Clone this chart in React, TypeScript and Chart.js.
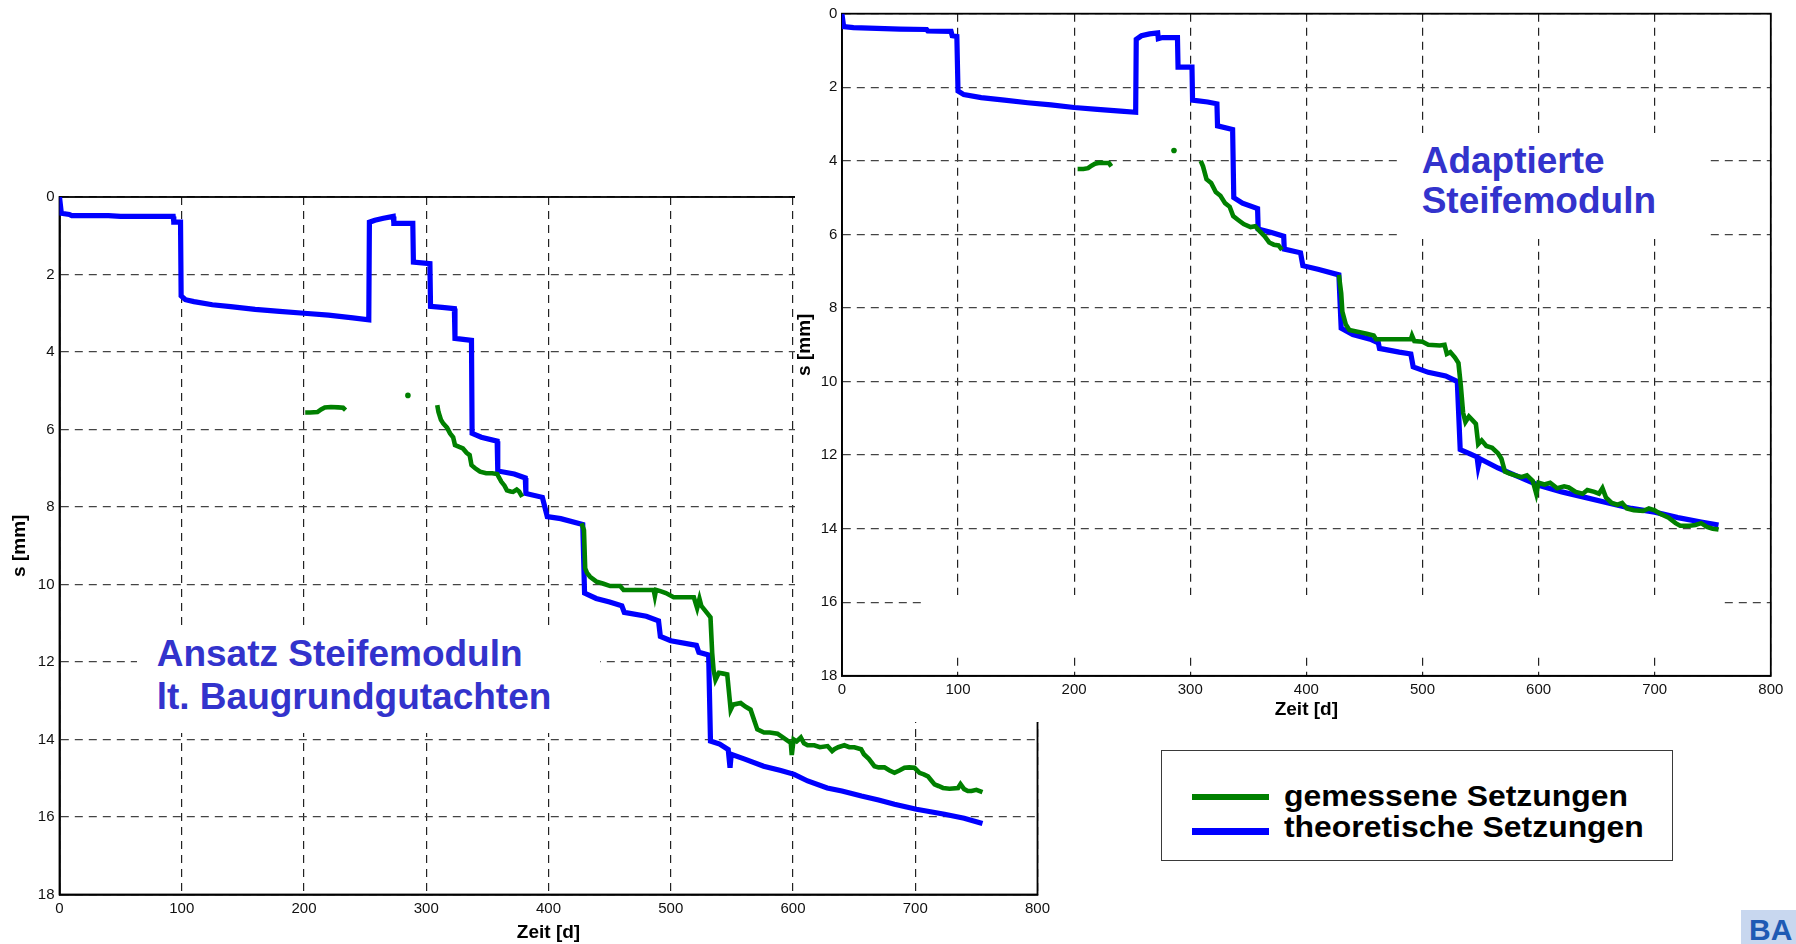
import React, { useEffect, useRef } from "react";
import { Chart, registerables } from "chart.js";

Chart.register(...registerables);

// ---------- data ----------
const X_TICKS = [0, 100, 200, 300, 400, 500, 600, 700, 800];
const Y_TICKS = [0, 2, 4, 6, 8, 10, 12, 14, 16, 18];
const X_TITLE = "Zeit [d]";
const Y_TITLE = "s [mm]";
const SERIES_NAMES = ["gemessene Setzungen", "theoretische Setzungen"];
const LEFT_NOTE = ["Ansatz Steifemoduln", "lt. Baugrundgutachten"];
const RIGHT_NOTE = ["Adaptierte", "Steifemoduln"];

// left chart: theoretical settlement (blue)
const LEFT_THEO_X = [0, 1.5, 8, 10, 40, 50, 93, 93.5, 99, 99.5, 103, 110, 125, 140, 160, 180, 200, 220, 240, 253, 253.5, 258, 265, 273, 273.5, 289, 289.5, 303, 303.5, 313, 323, 323.5, 337, 337.5, 345, 358, 358.5, 372, 381, 381.5, 395, 399, 410, 428, 429.5, 439, 450, 460, 462, 480, 490, 491.5, 500, 521, 523, 531, 532.5, 540, 547, 548.5, 549.5, 560, 576, 590, 601, 612, 628, 640, 656, 670, 683, 701, 724, 740, 755];
const LEFT_THEO_Y = [0, 0.42, 0.45, 0.48, 0.48, 0.5, 0.5, 0.65, 0.65, 2.55, 2.65, 2.7, 2.78, 2.83, 2.9, 2.95, 3.0, 3.05, 3.12, 3.17, 0.65, 0.6, 0.55, 0.5, 0.68, 0.68, 1.68, 1.72, 2.82, 2.85, 2.88, 3.65, 3.7, 6.1, 6.2, 6.3, 7.07, 7.15, 7.25, 7.65, 7.75, 8.25, 8.3, 8.45, 10.22, 10.36, 10.45, 10.55, 10.72, 10.82, 10.94, 11.34, 11.45, 11.57, 11.75, 11.82, 14.04, 14.12, 14.26, 14.73, 14.38, 14.5, 14.69, 14.8, 14.9, 15.07, 15.25, 15.33, 15.46, 15.56, 15.67, 15.8, 15.93, 16.03, 16.17];

// left chart: measured settlement (green), null = gap
const LEFT_MEAS_X = [201, 205, 211, 214, 217, 222, 228, 232, 234, 260, 285, 297, 309, 310, 312, 314, 317, 319.5, 322, 323.5, 327, 330, 333, 335.5, 337, 340, 344, 349, 354, 358, 361.5, 364, 366, 369, 371, 374, 376, 378.5, 400, 427, 429, 430, 431.5, 434, 439.5, 445, 450.5, 458.6, 461.4, 470, 486, 487, 488, 491.5, 496, 502.4, 510, 518.9, 521.6, 523.5, 525, 529.8, 532.5, 533.9, 535, 536.6, 539.4, 543, 546.2, 548, 549, 551, 557.2, 561, 565.3, 570.8, 576.3, 581, 587.3, 592, 598.2, 599, 600.5, 603, 606.4, 609, 611.9, 617.4, 622, 628.3, 632, 633.8, 637, 642, 646, 650.2, 655.7, 658, 662, 666.6, 670, 674.8, 679, 683, 687, 691.2, 695, 699.4, 703.5, 707, 710.4, 713, 715.8, 719, 722.7, 728, 735, 737, 740, 743, 746, 750, 755];
const LEFT_MEAS_Y = [5.56, 5.56, 5.55, 5.48, 5.43, 5.42, 5.43, 5.44, 5.5, null, 5.12, null, 5.37, 5.55, 5.75, 5.85, 5.95, 6.1, 6.2, 6.4, 6.45, 6.49, 6.6, 6.66, 6.92, 7.0, 7.09, 7.13, 7.13, 7.15, 7.35, 7.45, 7.57, 7.6, 7.61, 7.55, 7.6, 7.74, null, 8.42, 8.6, 9.58, 9.7, 9.8, 9.93, 9.98, 10.04, 10.04, 10.14, 10.14, 10.14, 10.3, 10.14, 10.17, 10.22, 10.33, 10.33, 10.33, 10.61, 10.37, 10.55, 10.74, 10.85, 11.77, 12.2, 12.46, 12.28, 12.3, 12.32, 12.9, 13.23, 13.1, 13.06, 13.15, 13.23, 13.74, 13.82, 13.82, 13.85, 13.95, 14.09, 14.4, 14.0, 14.05, 13.95, 14.1, 14.15, 14.15, 14.2, 14.17, 14.3, 14.25, 14.2, 14.15, 14.2, 14.2, 14.25, 14.38, 14.5, 14.69, 14.72, 14.72, 14.8, 14.86, 14.8, 14.73, 14.72, 14.73, 14.86, 14.9, 14.95, 15.05, 15.16, 15.2, 15.25, 15.27, 15.25, 15.15, 15.28, 15.33, 15.33, 15.3, 15.36];

// right chart: theoretical settlement (blue)
const RIGHT_THEO_X = [0, 1.5, 10, 30, 50, 73, 74, 94, 95, 99, 100, 105, 120, 140, 160, 180, 200, 220, 240, 253, 253.5, 258, 265, 272, 272.5, 276, 289, 289.5, 301.5, 302, 315, 323, 323.5, 336.5, 337.5, 345, 358, 358.5, 370, 380.5, 381, 395, 397, 410, 428, 430, 440, 455, 462, 463, 480, 490, 492, 505, 520, 530, 532.5, 540, 547, 548, 549.5, 565, 580, 600, 620, 640, 660, 680, 700, 720, 740, 755];
const RIGHT_THEO_Y = [0, 0.35, 0.38, 0.4, 0.42, 0.43, 0.47, 0.48, 0.6, 0.62, 2.1, 2.2, 2.28, 2.35, 2.42, 2.48, 2.55, 2.6, 2.65, 2.68, 0.7, 0.6, 0.55, 0.52, 0.68, 0.65, 0.65, 1.45, 1.45, 2.35, 2.4, 2.45, 3.05, 3.15, 5.0, 5.15, 5.3, 5.85, 5.95, 6.05, 6.4, 6.5, 6.85, 6.95, 7.1, 8.55, 8.72, 8.85, 8.95, 9.1, 9.2, 9.25, 9.6, 9.75, 9.85, 10.0, 11.85, 11.95, 12.05, 12.3, 12.1, 12.35, 12.55, 12.82, 13.0, 13.15, 13.3, 13.45, 13.55, 13.7, 13.82, 13.9];

// right chart: measured settlement (green), null = gap
const RIGHT_MEAS_X = [203, 208, 212, 215, 218, 222, 226, 230, 232, 260, 286, 297, 309, 311, 314, 318, 322, 326, 330, 334, 337, 341, 346, 352, 356, 360, 364, 368, 372, 376, 379, 400, 428, 430, 431, 434, 437, 445, 452, 458, 460, 470, 480, 490, 491, 493, 500, 505, 515, 519, 521, 524, 528, 531, 533, 535, 537, 540, 543, 546, 548, 551, 555, 560, 565, 568, 571, 575, 580, 585, 590, 595, 598, 600, 605, 610, 616, 622, 626, 632, 638, 642, 648, 652, 655, 658, 663, 668, 672, 676, 682, 690, 695, 700, 705, 712, 718, 722, 730, 735, 740, 745, 750, 755];
const RIGHT_MEAS_Y = [4.22, 4.22, 4.2, 4.13, 4.08, 4.05, 4.06, 4.06, 4.15, null, 3.72, null, 4.0, 4.15, 4.5, 4.6, 4.85, 4.95, 5.15, 5.25, 5.5, 5.6, 5.72, 5.8, 5.78, 5.92, 6.05, 6.22, 6.28, 6.3, 6.42, null, 7.1, 7.6, 8.1, 8.45, 8.6, 8.65, 8.7, 8.75, 8.85, 8.85, 8.85, 8.85, 8.75, 8.9, 8.92, 9.0, 9.02, 9.0, 9.25, 9.2, 9.35, 9.5, 10.1, 10.85, 11.1, 10.95, 11.05, 11.15, 11.7, 11.6, 11.75, 11.8, 11.95, 12.1, 12.45, 12.5, 12.55, 12.6, 12.55, 12.7, 13.05, 12.75, 12.8, 12.75, 12.9, 12.85, 12.88, 13.0, 13.05, 12.95, 13.0, 13.05, 12.9, 13.15, 13.3, 13.35, 13.3, 13.45, 13.5, 13.52, 13.45, 13.5, 13.6, 13.7, 13.85, 13.92, 13.92, 13.9, 13.85, 13.95, 14.0, 14.02];

// ---------- styles ----------
const FONT = "'Liberation Sans', Arial, Helvetica, sans-serif";
const GREEN = "#008000";
const BLUE = "#0000ff";
const NOTE_BLUE = "#3333cc";

const toPoints = (xs: number[], ys: (number | null)[]) =>
  xs.map((x, i) => ({ x, y: ys[i] }));

const isolatedRadius = (ctx: any) => {
  const d = ctx.dataset && ctx.dataset.data;
  const i = ctx.dataIndex;
  if (!d || i == null || !d[i] || d[i].y == null) return 0;
  const prev = d[i - 1];
  const next = d[i + 1];
  return (!prev || prev.y == null) && (!next || next.y == null) ? 2.8 : 0;
};

const framePlugin = {
  id: "frame",
  beforeDatasetsDraw(chart: any) {
    const { ctx, chartArea } = chart;
    ctx.save();
    ctx.strokeStyle = "#000";
    ctx.lineWidth = 1.8;
    ctx.strokeRect(chartArea.left, chartArea.top, chartArea.right - chartArea.left, chartArea.bottom - chartArea.top);
    ctx.restore();
  },
};

type Layout = {
  padTop: number;
  padRight: number;
  yWidth: number;
  xHeight: number;
  yTickPad: number;
  xTickPad: number;
  yTitlePad: number;
  xTitlePad: number;
};

function buildConfig(measX: number[], measY: (number | null)[], theoX: number[], theoY: number[], L: Layout): any {
  const tickFont = { family: FONT, size: 15 };
  const titleFont = { family: FONT, size: 19, weight: "bold", lineHeight: 1 };
  return {
    type: "line",
    data: {
      datasets: [
        {
          label: SERIES_NAMES[0],
          data: toPoints(measX, measY),
          borderColor: GREEN,
          backgroundColor: GREEN,
          borderWidth: 4.6,
          pointRadius: isolatedRadius,
          pointHoverRadius: 0,
          pointBorderWidth: 0,
          pointBackgroundColor: GREEN,
          spanGaps: false,
          tension: 0,
          fill: false,
        },
        {
          label: SERIES_NAMES[1],
          data: toPoints(theoX, theoY),
          borderColor: BLUE,
          backgroundColor: BLUE,
          borderWidth: 5.2,
          pointRadius: 0,
          pointHoverRadius: 0,
          tension: 0,
          fill: false,
        },
      ],
    },
    options: {
      responsive: false,
      animation: false,
      events: [],
      layout: { padding: { top: L.padTop, right: L.padRight, left: 0, bottom: 0 } },
      plugins: { legend: { display: false }, tooltip: { enabled: false } },
      scales: {
        x: {
          type: "linear",
          min: 0,
          max: 800,
          afterBuildTicks: (s: any) => {
            s.ticks = X_TICKS.map((value) => ({ value }));
          },
          afterFit: (s: any) => {
            s.height = L.xHeight;
          },
          ticks: { font: tickFont, color: "#111", padding: L.xTickPad, maxRotation: 0, autoSkip: false, callback: (v: any) => String(v) },
          grid: { color: "#222", lineWidth: 1.2, drawTicks: false },
          border: { display: true, color: "#000", width: 1.8, dash: [8, 6] },
          title: { display: true, text: X_TITLE, color: "#000", font: titleFont, padding: { top: 0, bottom: L.xTitlePad } },
        },
        y: {
          type: "linear",
          reverse: true,
          min: 0,
          max: 18,
          afterBuildTicks: (s: any) => {
            s.ticks = Y_TICKS.map((value) => ({ value }));
          },
          afterFit: (s: any) => {
            s.width = L.yWidth;
          },
          ticks: { font: tickFont, color: "#111", padding: L.yTickPad, autoSkip: false, callback: (v: any) => String(v) },
          grid: { color: "#444", lineWidth: 1.2, drawTicks: false },
          border: { display: true, color: "#000", width: 1.8, dash: [8, 6] },
          title: { display: true, text: Y_TITLE, color: "#000", font: titleFont, padding: { top: L.yTitlePad, bottom: 0 } },
        },
      },
    },
    plugins: [framePlugin],
  };
}

function SettlementChart(props: {
  measX: number[];
  measY: (number | null)[];
  theoX: number[];
  theoY: number[];
  layout: Layout;
  w: number;
  h: number;
  style: React.CSSProperties;
}) {
  const ref = useRef<HTMLCanvasElement>(null);
  useEffect(() => {
    const chart = new Chart(ref.current as HTMLCanvasElement, buildConfig(props.measX, props.measY, props.theoX, props.theoY, props.layout));
    return () => chart.destroy();
  }, []);
  return <canvas ref={ref} width={props.w} height={props.h} style={{ position: "absolute", display: "block", ...props.style }} />;
}

export default function App() {
  const noteStyle: React.CSSProperties = {
    position: "absolute",
    fontFamily: FONT,
    fontWeight: "bold",
    fontSize: 37,
    color: NOTE_BLUE,
    whiteSpace: "pre",
  };
  return (
    <div style={{ position: "fixed", left: 0, top: 0, width: 1796, height: 944, background: "#fff", overflow: "hidden" }}>
      {/* left chart */}
      <SettlementChart
        measX={LEFT_MEAS_X}
        measY={LEFT_MEAS_Y}
        theoX={LEFT_THEO_X}
        theoY={LEFT_THEO_Y}
        w={1060}
        h={944}
        style={{ left: 0, top: 0, zIndex: 1 }}
        layout={{ padTop: 197, padRight: 22.5, yWidth: 59.5, xHeight: 49.5, yTickPad: 5, xTickPad: 5.5, yTitlePad: 10.5, xTitlePad: 1.5 }}
      />
      {/* left annotation */}
      <div style={{ position: "absolute", left: 137, top: 625, width: 463, height: 108, background: "#fff", zIndex: 2 }}>
        <div style={{ ...noteStyle, left: 19.7, top: 7.2, lineHeight: "43.3px" }}>
          <div>{LEFT_NOTE[0]}</div>
          <div>{LEFT_NOTE[1]}</div>
        </div>
      </div>
      {/* right chart */}
      <SettlementChart
        measX={RIGHT_MEAS_X}
        measY={RIGHT_MEAS_Y}
        theoX={RIGHT_THEO_X}
        theoY={RIGHT_THEO_Y}
        w={1001}
        h={722}
        style={{ left: 795, top: 0, zIndex: 3, background: "#fff" }}
        layout={{ padTop: 13.7, padRight: 25.2, yWidth: 46.9, xHeight: 46.2, yTickPad: 4.5, xTickPad: 5.5, yTitlePad: 0.5, xTitlePad: 3 }}
      />
      {/* right annotation */}
      <div style={{ position: "absolute", left: 1400, top: 133, width: 305, height: 106, background: "#fff", zIndex: 4 }}>
        <div style={{ ...noteStyle, left: 21.7, top: 7.5, lineHeight: "40px" }}>
          <div>{RIGHT_NOTE[0]}</div>
          <div>{RIGHT_NOTE[1]}</div>
        </div>
      </div>
      {/* blank text frame inside the right chart */}
      <div style={{ position: "absolute", left: 921, top: 595, width: 799, height: 58, background: "#fff", zIndex: 4 }} />
      {/* legend */}
      <div
        style={{
          position: "absolute",
          left: 1161,
          top: 750,
          width: 512,
          height: 111,
          border: "1.5px solid #3a3a3a",
          boxSizing: "border-box",
          background: "#fff",
          zIndex: 4,
        }}
      >
        <div style={{ position: "absolute", left: 30, top: 42.5, width: 76.5, height: 6.5, background: GREEN }} />
        <div style={{ position: "absolute", left: 30, top: 77, width: 76.5, height: 7, background: BLUE }} />
        <div
          style={{
            position: "absolute",
            left: 122,
            top: 29.5,
            fontFamily: FONT,
            fontWeight: "bold",
            fontSize: 29,
            lineHeight: "31px",
            color: "#000",
            whiteSpace: "pre",
            transform: "scaleX(1.1)",
            transformOrigin: "left top",
          }}
        >
          <div>{SERIES_NAMES[0]}</div>
          <div>{SERIES_NAMES[1]}</div>
        </div>
      </div>
      {/* logo fragment */}
      <div style={{ position: "absolute", left: 1741, top: 910, width: 60, height: 40, background: "#c8d7ef", zIndex: 4 }}>
        <div
          style={{
            position: "absolute",
            left: 8,
            top: 5.4,
            fontFamily: FONT,
            fontWeight: "bold",
            fontSize: 30,
            lineHeight: "30px",
            color: "#1f5ab4",
            whiteSpace: "pre",
          }}
        >
          BA
        </div>
      </div>
    </div>
  );
}
